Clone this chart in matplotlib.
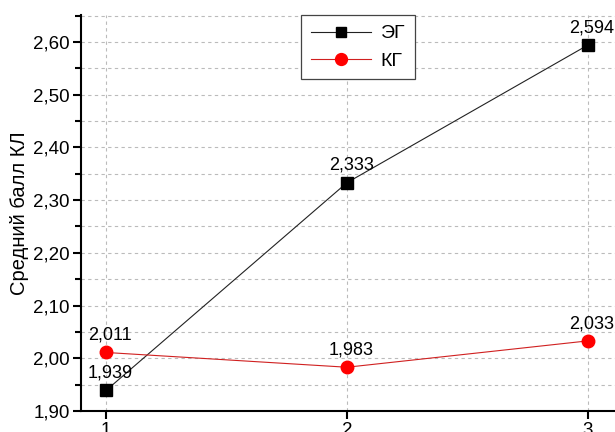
import numpy as np
import matplotlib.pyplot as plt
from matplotlib.ticker import MultipleLocator, FuncFormatter

plt.rcParams['font.family'] = ['Liberation Sans', 'DejaVu Sans']

x = [1, 2, 3]
eg = [1.939, 2.333, 2.594]
kg = [2.011, 1.983, 2.033]
eg_label = "ЭГ"
kg_label = "КГ"

fig = plt.figure(figsize=(6.15, 4.32), dpi=100)
ax = fig.add_axes([0.1317, 0.0486, 0.883, 0.9167])

ax.plot(x, eg, color="#222222", lw=0.8, marker="s", ms=8,
        mfc="black", mec="black", label=eg_label)
ax.plot(x, kg, color="#d02020", lw=0.8, marker="o", ms=9,
        mfc="red", mec="red", label=kg_label)

# подписи значений над точками
for xi, v in zip(x, eg):
    ax.annotate(f"{v:.3f}".replace(".", ","), (xi, v), xytext=(3, 12.5),
                textcoords="offset points", ha="center", va="center", fontsize=13)
for xi, v in zip(x, kg):
    ax.annotate(f"{v:.3f}".replace(".", ","), (xi, v), xytext=(3, 12.5),
                textcoords="offset points", ha="center", va="center", fontsize=13)

ax.set_xlim(0.896, 3.15)
ax.set_ylim(1.90, 2.651)
ax.set_xticks(x)
ax.yaxis.set_major_locator(MultipleLocator(0.1))
ax.yaxis.set_minor_locator(MultipleLocator(0.05))
ax.yaxis.set_major_formatter(FuncFormatter(lambda v, p: f"{v:.2f}".replace(".", ",")))

ax.grid(True, which="both", axis="y", ls=(0, (3, 3)), color="#bbbbbb", lw=0.8)
ax.grid(True, which="major", axis="x", ls=(0, (3, 3)), color="#bbbbbb", lw=0.8)

for s in ["top", "right"]:
    ax.spines[s].set_visible(False)
ax.spines["left"].set_linewidth(1.5)
ax.spines["bottom"].set_linewidth(1.5)
ax.tick_params(axis="both", which="major", length=6, width=1.5, labelsize=13.5, pad=2)
ax.tick_params(axis="y", which="minor", length=4, width=1.5)

ax.set_ylabel("Средний балл КЛ", fontsize=14.5, labelpad=3)

leg = ax.legend(loc="upper left", bbox_to_anchor=(0.405, 1.0), borderaxespad=0,
                fontsize=14, fancybox=False, edgecolor="#444444", framealpha=1,
                handlelength=3.1, handletextpad=0.5, borderpad=0.5,
                labelspacing=0.5, markerscale=0.95)
leg.get_frame().set_linewidth(0.9)

fig.savefig("out.png", dpi=100)
